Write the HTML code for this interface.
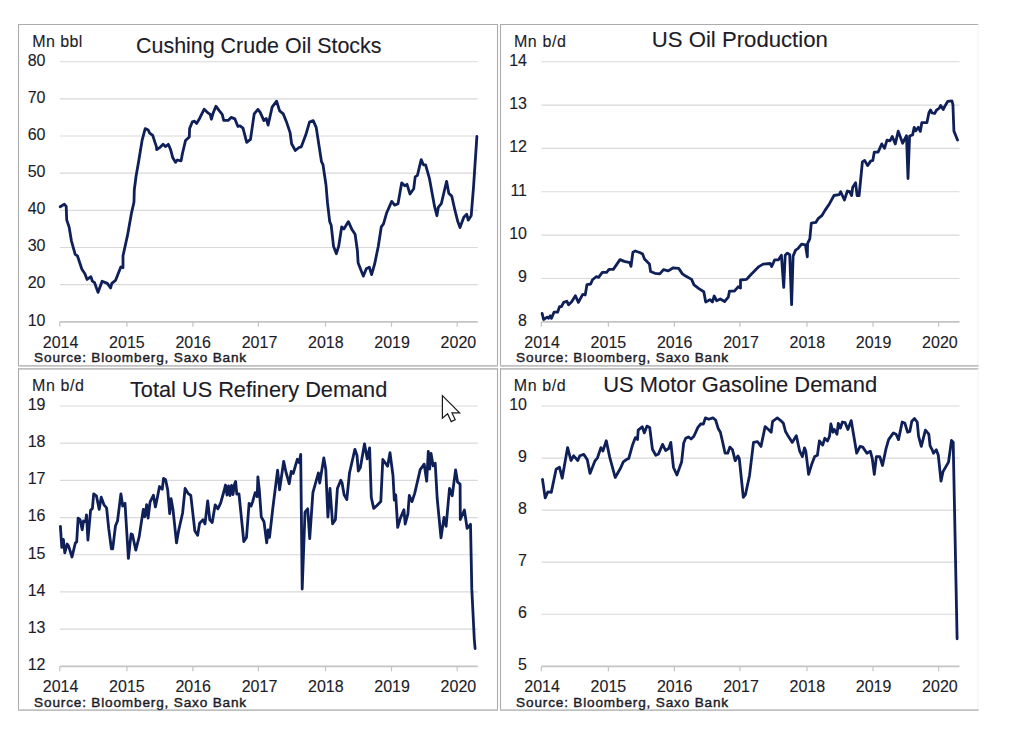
<!DOCTYPE html>
<html><head><meta charset="utf-8"><style>
html,body{margin:0;padding:0;background:#fff;width:1024px;height:736px;overflow:hidden}
svg{display:block}
text{font-family:'Liberation Sans', sans-serif;fill:#1c1c28;stroke:#1c1c28;stroke-width:0.12px}
</style></head><body>
<svg width="1024" height="736" viewBox="0 0 1024 736">
<line x1="18.0" y1="24.5" x2="498.0" y2="24.5" stroke="#acacac" stroke-width="1"/>
<line x1="18.5" y1="24.5" x2="18.5" y2="365.9" stroke="#acacac" stroke-width="1.1"/>
<line x1="497.5" y1="24.5" x2="497.5" y2="365.9" stroke="#acacac" stroke-width="1.1"/>
<line x1="18.0" y1="365.9" x2="498.0" y2="365.9" stroke="#c0c0c0" stroke-width="1.7"/>
<line x1="60" y1="61.70" x2="477.8" y2="61.70" stroke="#d9d9d9" stroke-width="1.15"/>
<text x="45.5" y="65.50" text-anchor="end" font-size="16">80</text>
<line x1="60" y1="98.86" x2="477.8" y2="98.86" stroke="#d9d9d9" stroke-width="1.15"/>
<text x="45.5" y="102.66" text-anchor="end" font-size="16">70</text>
<line x1="60" y1="136.01" x2="477.8" y2="136.01" stroke="#d9d9d9" stroke-width="1.15"/>
<text x="45.5" y="139.81" text-anchor="end" font-size="16">60</text>
<line x1="60" y1="173.17" x2="477.8" y2="173.17" stroke="#d9d9d9" stroke-width="1.15"/>
<text x="45.5" y="176.97" text-anchor="end" font-size="16">50</text>
<line x1="60" y1="210.33" x2="477.8" y2="210.33" stroke="#d9d9d9" stroke-width="1.15"/>
<text x="45.5" y="214.13" text-anchor="end" font-size="16">40</text>
<line x1="60" y1="247.49" x2="477.8" y2="247.49" stroke="#d9d9d9" stroke-width="1.15"/>
<text x="45.5" y="251.29" text-anchor="end" font-size="16">30</text>
<line x1="60" y1="284.64" x2="477.8" y2="284.64" stroke="#d9d9d9" stroke-width="1.15"/>
<text x="45.5" y="288.44" text-anchor="end" font-size="16">20</text>
<line x1="60" y1="321.80" x2="477.8" y2="321.80" stroke="#c4c4c4" stroke-width="1.8"/>
<text x="45.5" y="325.60" text-anchor="end" font-size="16">10</text>
<line x1="59.80" y1="321.8" x2="59.80" y2="326.8" stroke="#c4c4c4" stroke-width="1.2"/>
<text x="60.60" y="348.1" text-anchor="middle" font-size="16">2014</text>
<line x1="126.90" y1="321.8" x2="126.90" y2="326.8" stroke="#c4c4c4" stroke-width="1.2"/>
<text x="126.90" y="348.1" text-anchor="middle" font-size="16">2015</text>
<line x1="192.90" y1="321.8" x2="192.90" y2="326.8" stroke="#c4c4c4" stroke-width="1.2"/>
<text x="193.20" y="348.1" text-anchor="middle" font-size="16">2016</text>
<line x1="258.40" y1="321.8" x2="258.40" y2="326.8" stroke="#c4c4c4" stroke-width="1.2"/>
<text x="259.50" y="348.1" text-anchor="middle" font-size="16">2017</text>
<line x1="325.50" y1="321.8" x2="325.50" y2="326.8" stroke="#c4c4c4" stroke-width="1.2"/>
<text x="325.80" y="348.1" text-anchor="middle" font-size="16">2018</text>
<line x1="391.50" y1="321.8" x2="391.50" y2="326.8" stroke="#c4c4c4" stroke-width="1.2"/>
<text x="392.10" y="348.1" text-anchor="middle" font-size="16">2019</text>
<line x1="457.20" y1="321.8" x2="457.20" y2="326.8" stroke="#c4c4c4" stroke-width="1.2"/>
<text x="458.40" y="348.1" text-anchor="middle" font-size="16">2020</text>
<text x="32.300000000000004" y="46.9" font-size="16" textLength="50" lengthAdjust="spacing">Mn bbl</text>
<text x="136" y="52.7" font-size="21.5" textLength="245.5" lengthAdjust="spacingAndGlyphs">Cushing Crude Oil Stocks</text>
<text x="34.1" y="362.3" font-size="13.6" style="stroke-width:0.42px" textLength="212" lengthAdjust="spacing">Source: Bloomberg, Saxo Bank</text>
<polyline points="60.2,206.7 64.3,204.2 66.2,206.4 66.7,219.9 69.2,227.4 71.4,240.8 75.2,254.3 77.4,255.8 81.9,269.2 84.9,273.7 87.1,279.4 90.9,276.7 92.4,281.2 94.6,282.7 98.0,292.4 102.1,281.2 107.3,283.4 110.6,287.9 111.8,283.4 115.5,280.4 120.8,267.0 123.0,267.7 123.0,255.8 127.5,235.4 131.6,212.6 134.0,202.0 134.3,189.8 135.6,180.0 136.0,176.5 138.5,162.3 142.2,139.8 145.2,128.6 148.2,130.1 149.7,133.1 152.7,135.4 154.9,142.1 156.4,146.6 156.7,149.6 160.1,147.3 163.1,144.3 165.4,146.6 168.3,144.3 170.6,149.6 172.8,157.8 175.5,162.3 177.3,160.0 181.1,160.8 182.5,153.3 185.5,140.6 189.3,136.9 189.6,128.6 192.3,121.9 194.5,121.2 196.7,123.4 199.7,118.2 204.2,109.2 208.0,112.9 210.2,114.4 211.4,119.2 213.2,112.9 215.9,106.2 219.2,110.7 222.2,114.4 223.7,120.4 228.1,120.4 231.1,117.4 234.9,118.9 237.9,126.4 240.0,125.9 243.0,128.1 246.7,142.3 250.5,139.3 254.2,113.9 257.9,109.4 260.2,112.4 263.9,120.6 266.2,118.4 268.1,125.1 272.1,107.2 276.6,101.2 279.6,110.9 283.3,113.9 286.3,121.4 290.1,132.6 291.6,143.8 295.3,150.5 299.0,147.5 301.3,146.8 305.8,134.8 309.5,122.1 313.2,120.6 316.2,127.4 321.5,161.7 323.0,164.7 326.0,185.0 327.5,202.9 329.7,221.6 331.2,225.3 333.5,246.2 336.4,253.7 338.7,246.2 341.7,226.8 343.9,229.0 348.4,221.6 352.1,229.8 355.1,234.3 357.4,250.7 358.1,262.7 360.4,268.7 363.3,276.1 366.3,268.7 369.3,267.2 371.6,274.6 374.6,264.2 378.3,246.2 381.3,226.8 383.5,223.8 386.5,213.3 391.7,201.4 394.7,205.1 398.0,203.7 401.7,182.8 404.7,185.8 407.0,184.3 410.0,194.0 413.7,188.8 415.2,176.8 417.4,175.3 421.2,159.6 423.4,164.8 425.6,164.8 429.4,178.3 432.4,194.7 434.6,206.7 436.9,215.7 438.3,207.4 441.3,203.7 446.6,181.3 448.8,193.2 451.8,196.2 454.8,209.7 457.8,221.6 460.0,227.6 463.8,217.2 466.7,214.2 468.2,220.1 471.2,215.7 473.5,187.3 476.9,136.4" fill="none" stroke="#0f1f58" stroke-width="2.8" stroke-linejoin="round" stroke-linecap="round"/>
<line x1="500.0" y1="24.5" x2="978.6" y2="24.5" stroke="#acacac" stroke-width="1"/>
<line x1="500.5" y1="24.5" x2="500.5" y2="365.9" stroke="#acacac" stroke-width="1.1"/>
<line x1="978.1" y1="24.5" x2="978.1" y2="365.9" stroke="#f5f5f5" stroke-width="1.1"/>
<line x1="500.0" y1="365.9" x2="978.6" y2="365.9" stroke="#c0c0c0" stroke-width="1.7"/>
<line x1="541.5" y1="61.70" x2="959.5" y2="61.70" stroke="#d9d9d9" stroke-width="1.15"/>
<text x="527" y="65.50" text-anchor="end" font-size="16">14</text>
<line x1="541.5" y1="105.05" x2="959.5" y2="105.05" stroke="#d9d9d9" stroke-width="1.15"/>
<text x="527" y="108.85" text-anchor="end" font-size="16">13</text>
<line x1="541.5" y1="148.40" x2="959.5" y2="148.40" stroke="#d9d9d9" stroke-width="1.15"/>
<text x="527" y="152.20" text-anchor="end" font-size="16">12</text>
<line x1="541.5" y1="191.75" x2="959.5" y2="191.75" stroke="#d9d9d9" stroke-width="1.15"/>
<text x="527" y="195.55" text-anchor="end" font-size="16">11</text>
<line x1="541.5" y1="235.10" x2="959.5" y2="235.10" stroke="#d9d9d9" stroke-width="1.15"/>
<text x="527" y="238.90" text-anchor="end" font-size="16">10</text>
<line x1="541.5" y1="278.45" x2="959.5" y2="278.45" stroke="#d9d9d9" stroke-width="1.15"/>
<text x="527" y="282.25" text-anchor="end" font-size="16">9</text>
<line x1="541.5" y1="321.80" x2="959.5" y2="321.80" stroke="#c4c4c4" stroke-width="1.8"/>
<text x="527" y="325.60" text-anchor="end" font-size="16">8</text>
<line x1="541.30" y1="321.8" x2="541.30" y2="326.8" stroke="#c4c4c4" stroke-width="1.2"/>
<text x="542.10" y="348.1" text-anchor="middle" font-size="16">2014</text>
<line x1="608.40" y1="321.8" x2="608.40" y2="326.8" stroke="#c4c4c4" stroke-width="1.2"/>
<text x="608.40" y="348.1" text-anchor="middle" font-size="16">2015</text>
<line x1="674.40" y1="321.8" x2="674.40" y2="326.8" stroke="#c4c4c4" stroke-width="1.2"/>
<text x="674.70" y="348.1" text-anchor="middle" font-size="16">2016</text>
<line x1="739.90" y1="321.8" x2="739.90" y2="326.8" stroke="#c4c4c4" stroke-width="1.2"/>
<text x="741.00" y="348.1" text-anchor="middle" font-size="16">2017</text>
<line x1="807.00" y1="321.8" x2="807.00" y2="326.8" stroke="#c4c4c4" stroke-width="1.2"/>
<text x="807.30" y="348.1" text-anchor="middle" font-size="16">2018</text>
<line x1="873.00" y1="321.8" x2="873.00" y2="326.8" stroke="#c4c4c4" stroke-width="1.2"/>
<text x="873.60" y="348.1" text-anchor="middle" font-size="16">2019</text>
<line x1="938.70" y1="321.8" x2="938.70" y2="326.8" stroke="#c4c4c4" stroke-width="1.2"/>
<text x="939.90" y="348.1" text-anchor="middle" font-size="16">2020</text>
<text x="513.9000000000001" y="46.8" font-size="16" textLength="52" lengthAdjust="spacing">Mn b/d</text>
<text x="651.8" y="46.9" font-size="21.5" textLength="176" lengthAdjust="spacingAndGlyphs">US Oil Production</text>
<text x="516.1" y="362.3" font-size="13.6" style="stroke-width:0.42px" textLength="212" lengthAdjust="spacing">Source: Bloomberg, Saxo Bank</text>
<polyline points="542.1,313.4 543.6,319.5 547.2,317.1 548.5,318.3 550.3,315.8 551.5,318.3 554.0,312.2 557.6,312.2 559.5,306.7 561.3,306.7 563.7,302.4 566.8,301.2 568.6,304.8 571.7,301.8 575.4,295.7 578.4,302.4 582.7,294.4 585.2,295.0 587.0,284.6 590.7,284.0 592.5,279.8 596.2,276.7 598.6,277.3 602.3,272.4 606.6,272.4 609.0,269.4 613.3,269.4 620.0,259.6 624.3,261.4 629.8,262.6 631.0,266.3 632.9,252.2 635.3,251.0 640.2,252.8 642.6,254.1 644.5,259.0 649.4,263.9 650.6,271.5 654.9,273.3 659.8,273.9 663.5,269.6 668.3,270.9 673.2,267.8 678.7,268.4 682.4,273.9 684.3,275.2 691.6,279.4 694.0,284.9 698.9,288.6 703.8,291.7 705.7,302.1 709.9,299.6 712.4,302.1 714.2,296.0 716.7,300.8 720.3,299.0 724.6,301.5 728.3,297.2 729.5,291.1 734.4,291.1 738.1,286.8 740.5,288.0 740.5,280.0 746.6,279.4 750.3,275.2 758.9,266.6 763.1,264.1 770.2,263.5 771.7,266.5 774.7,259.8 778.5,259.8 781.4,255.3 783.7,287.4 785.2,255.3 787.4,253.1 789.7,254.6 791.6,304.6 793.1,256.1 795.6,250.1 797.9,248.6 801.6,244.1 805.4,244.8 807.3,256.8 807.6,243.3 809.8,238.9 811.3,223.2 815.8,222.4 818.1,218.7 821.8,215.7 825.0,210.4 829.5,203.7 834.0,195.5 839.2,194.7 840.7,191.7 844.4,200.0 847.4,191.0 849.7,191.7 851.6,195.5 852.7,187.3 855.6,182.8 857.1,195.5 859.1,195.5 862.4,161.9 864.6,160.4 867.6,165.6 870.6,161.1 872.8,160.4 874.3,152.1 878.1,152.1 881.8,143.9 884.5,148.4 887.0,140.2 890.0,140.9 892.3,136.4 895.3,143.9 898.2,131.2 902.7,143.2 906.5,135.7 908.0,178.5 909.6,136.0 912.6,134.9 914.2,127.3 915.7,130.9 918.3,127.3 920.3,131.4 921.8,122.7 926.9,122.7 929.0,112.5 930.5,110.0 932.0,113.0 934.6,113.5 936.6,110.0 939.1,108.4 940.7,105.4 943.2,109.5 945.3,105.4 947.8,101.3 951.9,100.8 952.9,104.4 953.9,130.9 957.5,140.0" fill="none" stroke="#0f1f58" stroke-width="2.8" stroke-linejoin="round" stroke-linecap="round"/>
<line x1="18.0" y1="368.8" x2="498.0" y2="368.8" stroke="#c0c0c0" stroke-width="1.7"/>
<line x1="18.5" y1="368.8" x2="18.5" y2="710.2" stroke="#acacac" stroke-width="1.1"/>
<line x1="497.5" y1="368.8" x2="497.5" y2="710.2" stroke="#acacac" stroke-width="1.1"/>
<line x1="18.0" y1="710.2" x2="498.0" y2="710.2" stroke="#c0c0c0" stroke-width="1.7"/>
<line x1="60" y1="406.00" x2="477.8" y2="406.00" stroke="#d9d9d9" stroke-width="1.15"/>
<text x="45.5" y="409.80" text-anchor="end" font-size="16">19</text>
<line x1="60" y1="443.19" x2="477.8" y2="443.19" stroke="#d9d9d9" stroke-width="1.15"/>
<text x="45.5" y="446.99" text-anchor="end" font-size="16">18</text>
<line x1="60" y1="480.37" x2="477.8" y2="480.37" stroke="#d9d9d9" stroke-width="1.15"/>
<text x="45.5" y="484.17" text-anchor="end" font-size="16">17</text>
<line x1="60" y1="517.56" x2="477.8" y2="517.56" stroke="#d9d9d9" stroke-width="1.15"/>
<text x="45.5" y="521.36" text-anchor="end" font-size="16">16</text>
<line x1="60" y1="554.74" x2="477.8" y2="554.74" stroke="#d9d9d9" stroke-width="1.15"/>
<text x="45.5" y="558.54" text-anchor="end" font-size="16">15</text>
<line x1="60" y1="591.93" x2="477.8" y2="591.93" stroke="#d9d9d9" stroke-width="1.15"/>
<text x="45.5" y="595.73" text-anchor="end" font-size="16">14</text>
<line x1="60" y1="629.11" x2="477.8" y2="629.11" stroke="#d9d9d9" stroke-width="1.15"/>
<text x="45.5" y="632.91" text-anchor="end" font-size="16">13</text>
<line x1="60" y1="666.30" x2="477.8" y2="666.30" stroke="#c4c4c4" stroke-width="1.8"/>
<text x="45.5" y="670.10" text-anchor="end" font-size="16">12</text>
<line x1="59.80" y1="666.3" x2="59.80" y2="671.3" stroke="#c4c4c4" stroke-width="1.2"/>
<text x="60.60" y="692.3" text-anchor="middle" font-size="16">2014</text>
<line x1="126.90" y1="666.3" x2="126.90" y2="671.3" stroke="#c4c4c4" stroke-width="1.2"/>
<text x="126.90" y="692.3" text-anchor="middle" font-size="16">2015</text>
<line x1="192.90" y1="666.3" x2="192.90" y2="671.3" stroke="#c4c4c4" stroke-width="1.2"/>
<text x="193.20" y="692.3" text-anchor="middle" font-size="16">2016</text>
<line x1="258.40" y1="666.3" x2="258.40" y2="671.3" stroke="#c4c4c4" stroke-width="1.2"/>
<text x="259.50" y="692.3" text-anchor="middle" font-size="16">2017</text>
<line x1="325.50" y1="666.3" x2="325.50" y2="671.3" stroke="#c4c4c4" stroke-width="1.2"/>
<text x="325.80" y="692.3" text-anchor="middle" font-size="16">2018</text>
<line x1="391.50" y1="666.3" x2="391.50" y2="671.3" stroke="#c4c4c4" stroke-width="1.2"/>
<text x="392.10" y="692.3" text-anchor="middle" font-size="16">2019</text>
<line x1="457.20" y1="666.3" x2="457.20" y2="671.3" stroke="#c4c4c4" stroke-width="1.2"/>
<text x="458.40" y="692.3" text-anchor="middle" font-size="16">2020</text>
<text x="31.999999999999996" y="391.1" font-size="16" textLength="52" lengthAdjust="spacing">Mn b/d</text>
<text x="130" y="396.8" font-size="21.5" textLength="257.3" lengthAdjust="spacingAndGlyphs">Total US Refinery Demand</text>
<text x="34.1" y="707" font-size="13.6" style="stroke-width:0.42px" textLength="212" lengthAdjust="spacing">Source: Bloomberg, Saxo Bank</text>
<polyline points="60.4,526.4 61.8,547.4 63.4,539.3 64.8,552.9 67.2,544.0 68.6,546.1 72.0,557.0 75.4,542.7 76.7,542.0 78.1,518.2 80.1,519.6 82.2,529.8 83.5,521.0 85.6,521.6 86.5,514.8 87.9,540.0 90.6,510.1 92.4,508.7 93.7,493.8 96.4,495.8 99.2,509.4 101.2,497.2 103.9,504.6 106.6,508.0 108.7,528.4 111.4,548.8 112.7,548.8 115.5,525.7 117.5,521.0 120.9,493.8 122.7,506.0 125.0,503.3 128.4,558.3 131.1,533.9 132.4,534.5 135.8,550.2 139.2,536.6 143.3,509.4 144.7,516.9 146.7,504.6 148.1,518.2 150.1,501.9 153.4,495.3 155.4,506.9 157.5,496.7 159.5,486.5 162.2,489.2 163.6,478.3 165.6,479.7 167.7,489.9 169.7,513.7 171.1,498.7 173.1,510.3 176.5,542.9 178.5,531.3 182.6,513.0 185.1,488.5 188.0,493.3 190.8,495.3 194.8,530.7 197.6,535.4 199.6,523.2 203.0,519.8 205.0,523.9 207.7,500.8 209.8,519.8 212.2,522.5 215.2,504.8 217.9,508.9 220.7,502.8 224.0,491.0 225.5,485.0 227.0,495.0 228.5,486.0 230.0,495.5 231.5,485.5 233.0,494.5 234.3,485.0 235.6,481.5 236.8,494.0 239.0,494.0 243.8,541.5 246.5,537.4 249.1,503.4 251.1,506.1 252.5,502.1 255.2,492.6 257.2,496.6 257.9,476.9 259.3,489.8 261.3,517.0 264.0,521.8 266.7,542.8 268.1,529.9 269.5,537.4 272.9,507.5 277.6,470.1 279.6,489.8 283.7,461.3 285.8,471.5 289.2,483.7 291.2,471.5 293.2,473.5 297.3,459.3 299.3,462.7 300.7,454.5 302.2,589.0 305.0,512.2 307.7,508.8 309.7,538.7 312.9,492.6 318.4,472.9 319.7,483.0 323.8,457.9 325.8,469.5 327.9,517.0 330.0,488.5 332.6,523.8 335.4,519.7 337.4,488.5 340.8,480.3 342.0,482.6 344.1,494.8 346.8,499.5 349.5,473.0 354.9,449.3 357.0,455.4 358.3,471.0 360.4,467.6 364.5,443.8 367.2,458.8 369.6,447.9 371.3,497.5 373.7,508.4 376.7,505.7 380.8,501.6 382.8,459.5 387.6,466.2 390.0,452.7 393.0,475.8 394.3,500.2 395.7,494.8 397.7,527.4 400.5,517.9 403.9,509.7 405.2,524.0 407.9,513.8 409.3,495.5 412.0,501.6 414.7,493.4 420.2,469.6 424.2,464.2 426.7,481.2 428.3,451.3 429.7,469.0 431.0,453.3 433.2,465.9 435.2,463.2 437.2,498.5 441.0,537.9 444.0,517.5 446.1,526.3 449.5,488.3 452.2,495.8 455.6,469.9 457.6,482.2 460.1,484.2 460.3,519.5 464.4,510.0 467.1,528.4 470.5,524.3 471.8,588.9 474.3,639.5 475.1,648.5" fill="none" stroke="#0f1f58" stroke-width="2.8" stroke-linejoin="round" stroke-linecap="round"/>
<line x1="500.0" y1="368.8" x2="978.6" y2="368.8" stroke="#c0c0c0" stroke-width="1.7"/>
<line x1="500.5" y1="368.8" x2="500.5" y2="710.2" stroke="#acacac" stroke-width="1.1"/>
<line x1="978.1" y1="368.8" x2="978.1" y2="710.2" stroke="#f5f5f5" stroke-width="1.1"/>
<line x1="500.0" y1="710.2" x2="978.6" y2="710.2" stroke="#c0c0c0" stroke-width="1.7"/>
<line x1="541.5" y1="406.00" x2="959.5" y2="406.00" stroke="#d9d9d9" stroke-width="1.15"/>
<text x="527" y="409.80" text-anchor="end" font-size="16">10</text>
<line x1="541.5" y1="458.06" x2="959.5" y2="458.06" stroke="#d9d9d9" stroke-width="1.15"/>
<text x="527" y="461.86" text-anchor="end" font-size="16">9</text>
<line x1="541.5" y1="510.12" x2="959.5" y2="510.12" stroke="#d9d9d9" stroke-width="1.15"/>
<text x="527" y="513.92" text-anchor="end" font-size="16">8</text>
<line x1="541.5" y1="562.18" x2="959.5" y2="562.18" stroke="#d9d9d9" stroke-width="1.15"/>
<text x="527" y="565.98" text-anchor="end" font-size="16">7</text>
<line x1="541.5" y1="614.24" x2="959.5" y2="614.24" stroke="#d9d9d9" stroke-width="1.15"/>
<text x="527" y="618.04" text-anchor="end" font-size="16">6</text>
<line x1="541.5" y1="666.30" x2="959.5" y2="666.30" stroke="#c4c4c4" stroke-width="1.8"/>
<text x="527" y="670.10" text-anchor="end" font-size="16">5</text>
<line x1="541.30" y1="666.3" x2="541.30" y2="671.3" stroke="#c4c4c4" stroke-width="1.2"/>
<text x="542.10" y="692.3" text-anchor="middle" font-size="16">2014</text>
<line x1="608.40" y1="666.3" x2="608.40" y2="671.3" stroke="#c4c4c4" stroke-width="1.2"/>
<text x="608.40" y="692.3" text-anchor="middle" font-size="16">2015</text>
<line x1="674.40" y1="666.3" x2="674.40" y2="671.3" stroke="#c4c4c4" stroke-width="1.2"/>
<text x="674.70" y="692.3" text-anchor="middle" font-size="16">2016</text>
<line x1="739.90" y1="666.3" x2="739.90" y2="671.3" stroke="#c4c4c4" stroke-width="1.2"/>
<text x="741.00" y="692.3" text-anchor="middle" font-size="16">2017</text>
<line x1="807.00" y1="666.3" x2="807.00" y2="671.3" stroke="#c4c4c4" stroke-width="1.2"/>
<text x="807.30" y="692.3" text-anchor="middle" font-size="16">2018</text>
<line x1="873.00" y1="666.3" x2="873.00" y2="671.3" stroke="#c4c4c4" stroke-width="1.2"/>
<text x="873.60" y="692.3" text-anchor="middle" font-size="16">2019</text>
<line x1="938.70" y1="666.3" x2="938.70" y2="671.3" stroke="#c4c4c4" stroke-width="1.2"/>
<text x="939.90" y="692.3" text-anchor="middle" font-size="16">2020</text>
<text x="513.7" y="391.25" font-size="16" textLength="52" lengthAdjust="spacing">Mn b/d</text>
<text x="603.2" y="391.8" font-size="21.5" textLength="274" lengthAdjust="spacingAndGlyphs">US Motor Gasoline Demand</text>
<text x="516.1" y="707" font-size="13.6" style="stroke-width:0.42px" textLength="212" lengthAdjust="spacing">Source: Bloomberg, Saxo Bank</text>
<polyline points="542.5,479.5 545.2,497.9 547.9,491.8 551.3,492.4 556.1,469.3 559.5,467.3 562.2,478.2 567.6,447.6 571.0,460.5 573.7,455.8 577.8,460.5 579.8,455.8 583.9,454.4 587.3,459.8 590.0,473.4 594.8,461.2 597.5,457.8 600.9,447.6 602.9,451.0 606.3,440.8 609.7,457.1 615.2,477.5 620.6,468.0 623.3,461.9 626.0,459.8 628.7,458.5 632.7,444.4 635.4,437.6 637.5,439.6 638.2,430.1 642.2,426.7 644.3,432.9 647.0,426.1 649.7,427.4 652.4,449.2 655.8,455.3 658.5,453.9 662.6,444.4 665.6,450.5 668.7,448.5 670.8,442.4 673.5,467.5 676.9,475.0 681.6,462.1 683.7,443.0 685.7,438.3 688.4,436.9 691.1,439.0 693.9,436.3 697.9,427.4 700.7,424.0 703.4,424.0 705.4,417.9 708.8,419.3 712.9,417.9 715.6,420.0 718.3,428.8 720.4,432.2 722.4,441.0 725.1,453.2 727.7,453.2 729.8,447.1 732.5,449.8 735.2,460.7 737.9,456.0 739.3,458.7 743.3,497.4 745.4,494.7 749.5,475.7 753.5,442.4 757.6,441.7 761.0,446.4 765.1,426.7 768.5,429.5 771.2,432.2 772.6,421.3 777.3,417.9 780.7,420.6 783.4,423.3 785.5,431.5 787.5,434.9 792.3,442.4 796.3,435.6 799.7,451.2 802.4,456.6 804.5,447.8 805.8,451.2 808.6,474.3 812.0,463.4 814.7,456.6 817.4,455.3 819.4,441.0 822.7,445.1 824.8,438.3 827.5,441.0 829.5,436.3 830.9,424.0 832.9,432.2 834.3,429.5 837.0,434.2 838.3,423.3 840.4,428.1 842.4,422.0 845.1,422.7 847.9,429.5 851.2,420.6 856.7,453.2 860.1,446.4 862.8,447.1 866.9,453.2 870.3,451.2 872.3,458.7 874.3,474.3 876.4,456.6 879.8,456.6 882.5,465.5 885.9,449.2 888.6,439.6 893.4,432.9 896.1,434.2 898.5,439.6 902.2,422.0 904.9,423.3 907.6,432.2 909.8,431.5 911.8,421.3 914.5,418.6 917.2,422.0 918.6,436.3 921.3,446.4 925.4,430.1 928.8,434.2 930.1,445.8 932.2,449.8 933.5,453.2 936.3,449.8 938.3,455.3 941.0,481.1 943.0,471.6 948.5,462.1 951.5,440.5 953.2,442.2 957.1,638.8" fill="none" stroke="#0f1f58" stroke-width="2.8" stroke-linejoin="round" stroke-linecap="round"/>
<path d="M442.4,395.7 L442.4,418.3 L447.6,413.8 L451.2,421.6 L455.2,419.8 L452,412.9 L459.6,412.9 Z" fill="#fff" stroke="#1a1a1a" stroke-width="1.2"/>
</svg>
</body></html>
